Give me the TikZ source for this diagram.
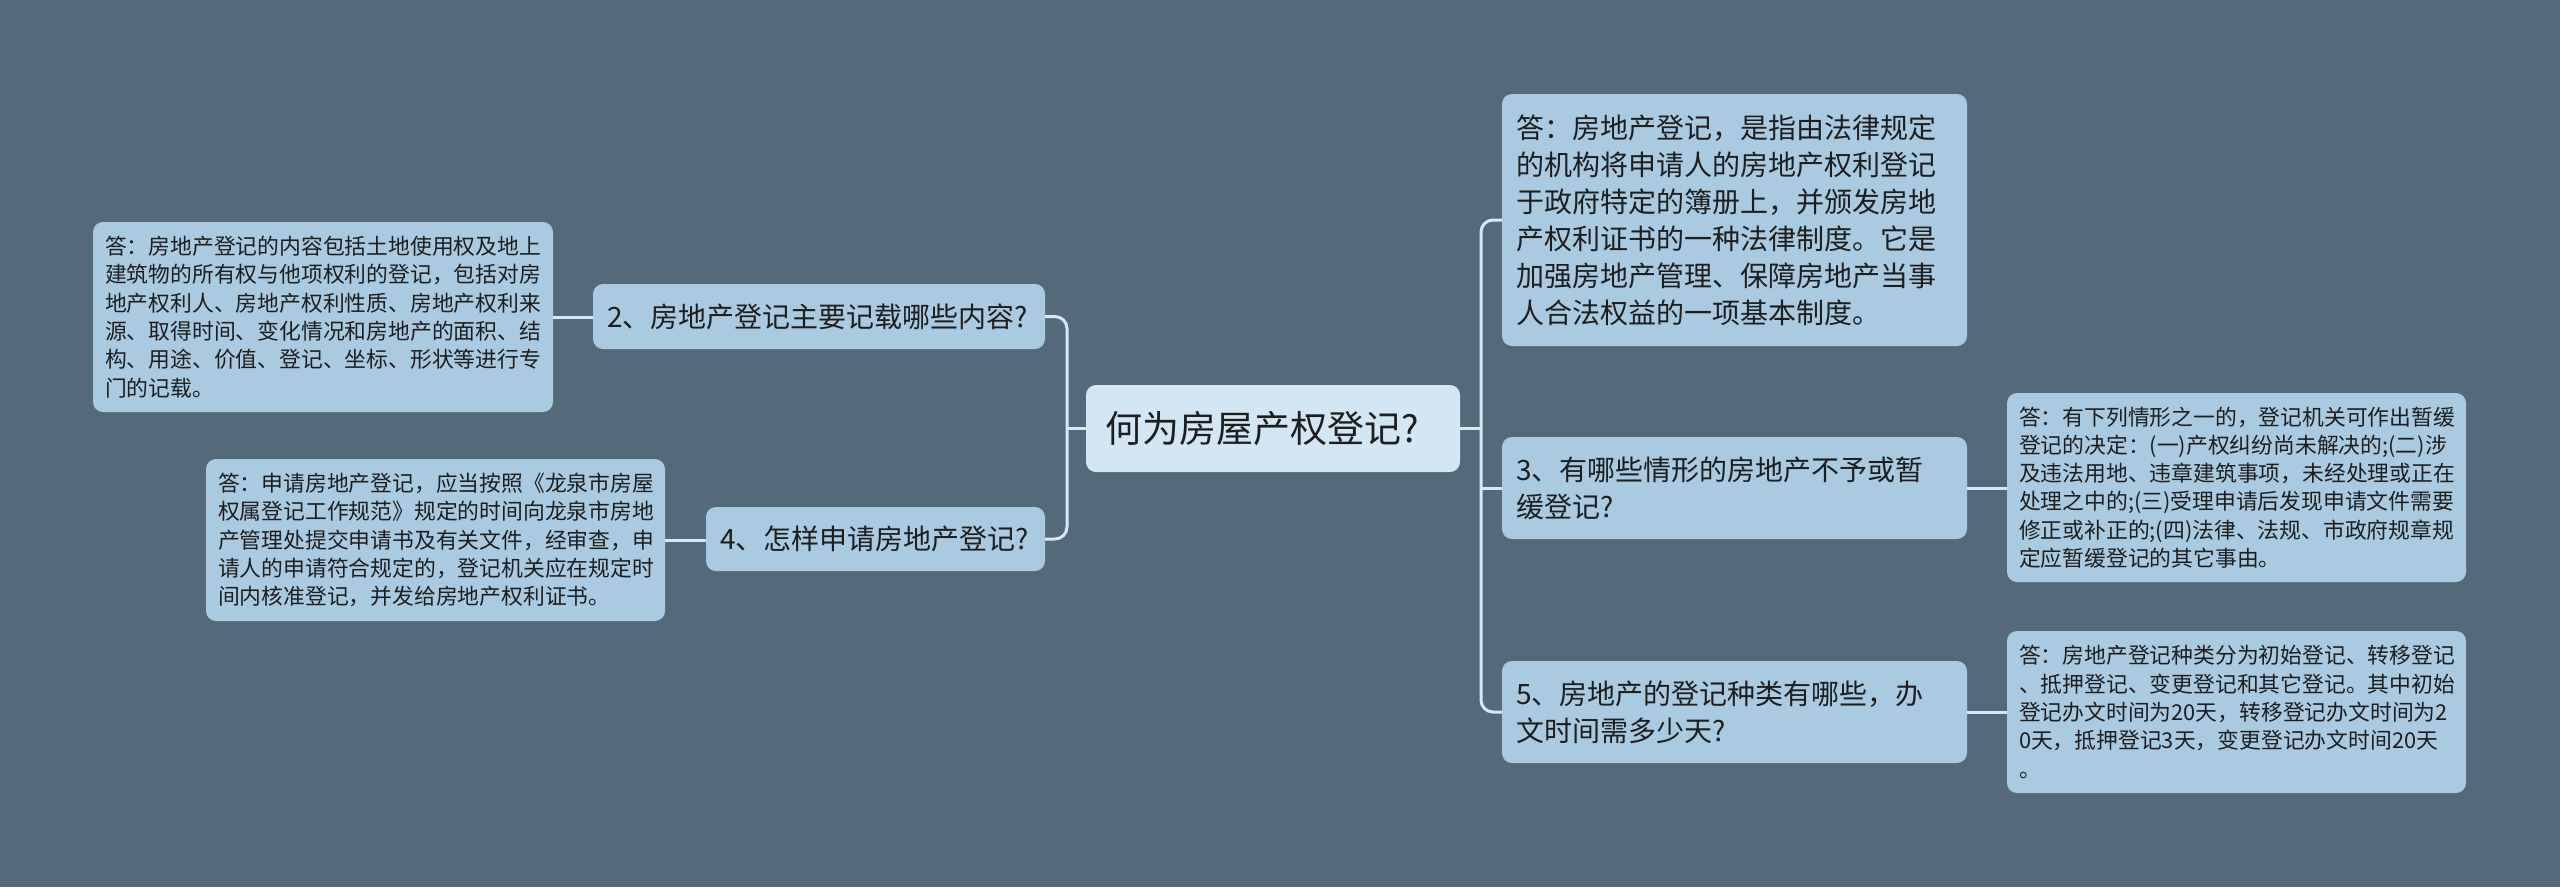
\documentclass[tikz,border=0pt]{standalone}
\usepackage{fontspec}
\setmainfont{Noto Sans CJK SC}
\definecolor{bg}{HTML}{546A7A}
\definecolor{nodefill}{HTML}{AACAE1}
\definecolor{rootfill}{HTML}{D2E6F3}
\definecolor{linec}{HTML}{D6E8F4}
\definecolor{txt}{HTML}{1E1E1E}
\begin{document}
\begin{tikzpicture}[x=1pt,y=-1pt,
  box/.style={draw=none, fill=nodefill, rounded corners=10pt, text=txt, align=left, inner ysep=0pt},
  leaf/.style={box, font=\fontsize{21.8pt}{28.3pt}\selectfont, inner xsep=12pt},
  mid/.style={box, font=\fontsize{28pt}{37pt}\selectfont, inner xsep=14pt},
  rootbox/.style={box, fill=rootfill, font=\fontsize{37pt}{44pt}\selectfont, inner xsep=19pt},
  link/.style={draw=linec, line width=3pt}]
\useasboundingbox (0,0) rectangle (2560,887);
\fill[bg] (0,0) rectangle (2560,887);

% root
\node[rootbox, minimum width=374pt, minimum height=87pt, text width=336pt] (root) at (1273,428.5) {何为房屋产权登记?};

% left side
\node[mid, minimum width=452pt, minimum height=65pt, text width=424pt, inner xsep=14pt] (n2) at (819,316.5) {2、房地产登记主要记载哪些内容?};
\node[mid, minimum width=339pt, minimum height=64pt, text width=311pt] (n4) at (875.5,539) {4、怎样申请房地产登记?};
\node[leaf, minimum width=460pt, minimum height=190pt, text width=436pt] (l2) at (323,317) {答：房地产登记的内容包括土地使用权及地上\\建筑物的所有权与他项权利的登记，包括对房\\地产权利人、房地产权利性质、房地产权利来\\源、取得时间、变化情况和房地产的面积、结\\构、用途、价值、登记、坐标、形状等进行专\\门的记载。};
\node[leaf, minimum width=459pt, minimum height=162pt, text width=435pt] (l4) at (435.5,540) {答：申请房地产登记，应当按照《龙泉市房屋\\权属登记工作规范》规定的时间向龙泉市房地\\产管理处提交申请书及有关文件，经审查，申\\请人的申请符合规定的，登记机关应在规定时\\间内核准登记，并发给房地产权利证书。};

% right side
\node[mid, minimum width=465pt, minimum height=252pt, text width=437pt] (a1) at (1734.5,220) {答：房地产登记，是指由法律规定\\的机构将申请人的房地产权利登记\\于政府特定的簿册上，并颁发房地\\产权利证书的一种法律制度。它是\\加强房地产管理、保障房地产当事\\人合法权益的一项基本制度。};
\node[mid, minimum width=465pt, minimum height=102pt, text width=437pt] (n3) at (1734.5,488) {3、有哪些情形的房地产不予或暂\\缓登记?};
\node[mid, minimum width=465pt, minimum height=102pt, text width=437pt] (n5) at (1734.5,712) {5、房地产的登记种类有哪些，办\\文时间需多少天?};
\node[leaf, minimum width=459pt, minimum height=189pt, text width=435pt] (l3) at (2236.5,487.5) {答：有下列情形之一的，登记机关可作出暂缓\\登记的决定：(一)产权纠纷尚未解决的;(二)涉\\及违法用地、违章建筑事项，未经处理或正在\\处理之中的;(三)受理申请后发现申请文件需要\\修正或补正的;(四)法律、法规、市政府规章规\\定应暂缓登记的其它事由。};
\node[leaf, minimum width=459pt, minimum height=162pt, text width=435pt] (l5) at (2236.5,712) {答：房地产登记种类分为初始登记、转移登记\\、抵押登记、变更登记和其它登记。其中初始\\登记办文时间为20天，转移登记办文时间为2\\0天，抵押登记3天，变更登记办文时间20天\\。};

% junction coordinates
\coordinate (lj) at (1067,428.5);
\coordinate (rj) at (1481,428.5);

% connectors
\draw[link] (root.west) -- (lj);
\draw[link, rounded corners=12pt] (n2.east) -| (lj) |- (n4.east);
\draw[link] (root.east) -- (rj);
\draw[link, rounded corners=12pt] (a1.west) -| (rj) |- (n5.west);
\draw[link] (n3.west) -- (n3.west -| rj);
\draw[link] (l2.east) -- (l2.east -| n2.west);
\draw[link] (l4.east) -- (l4.east -| n4.west);
\draw[link] (n3.east) -- (n3.east -| l3.west);
\draw[link] (n5.east) -- (n5.east -| l5.west);
\end{tikzpicture}
\end{document}
